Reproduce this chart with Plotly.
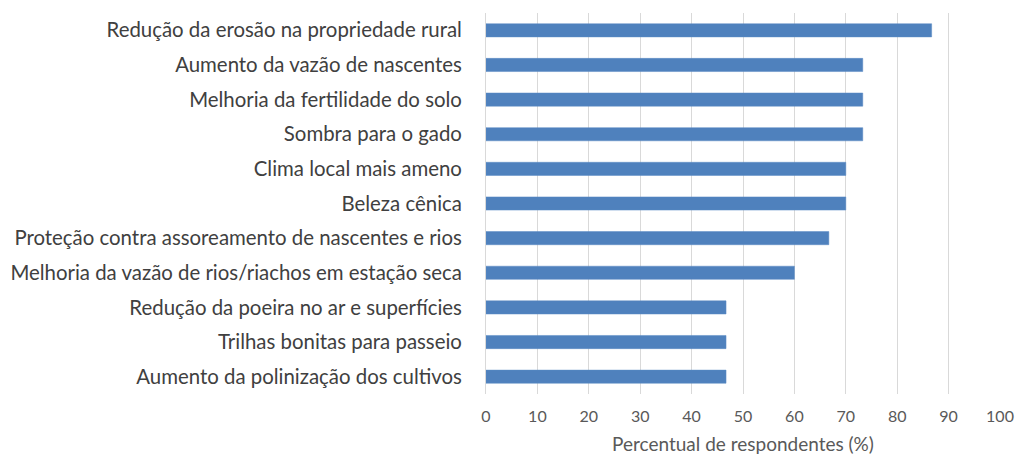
import plotly.graph_objects as go

categories = [
    "Redução da erosão na propriedade rural",
    "Aumento da vazão de nascentes",
    "Melhoria da fertilidade do solo",
    "Sombra para o gado",
    "Clima local mais ameno",
    "Beleza cênica",
    "Proteção contra assoreamento de nascentes e rios",
    "Melhoria da vazão de rios/riachos em estação seca",
    "Redução da poeira no ar e superfícies",
    "Trilhas bonitas para passeio",
    "Aumento da polinização dos cultivos",
]
values = [86.7, 73.3, 73.3, 73.3, 70.0, 70.0, 66.7, 60.0, 46.7, 46.7, 46.7]
x_ticks = list(range(0, 101, 10))

fig = go.Figure(go.Bar(
    x=values,
    y=categories,
    orientation="h",
    marker=dict(color="#4F81BD", line=dict(color="#5b8bc4", width=0.5)),
))

fig.update_layout(
    width=1015, height=455,
    margin=dict(l=486, r=15, t=13, b=61),
    paper_bgcolor="white", plot_bgcolor="white",
    bargap=0.62,
    showlegend=False,
    font=dict(family="Lato, Carlito, sans-serif", color="#595959"),
)
fig.update_xaxes(
    range=[0, 100], tickvals=x_ticks, showgrid=True, gridcolor="#d9d9d9", gridwidth=1,
    zeroline=False, showline=False, ticks="", automargin=False,
    tickfont=dict(size=16, color="#595959"),
    ticklabelstandoff=11, ticklabeloverflow="allow",
    title=dict(text="Percentual de respondentes (%)", font=dict(size=19, color="#595959"), standoff=19),
)
fig.update_yaxes(
    autorange="reversed", showgrid=False, zeroline=False, automargin=False,
    showline=True, linecolor="#d9d9d9", linewidth=1, ticks="",
    tickfont=dict(size=20.4, color="#404040"),
    ticklabelstandoff=19,
)

fig.write_html(
    "out.html",
    config={"displayModeBar": False},
    post_script="document.body.style.margin='0';document.body.style.overflow='hidden';",
)
